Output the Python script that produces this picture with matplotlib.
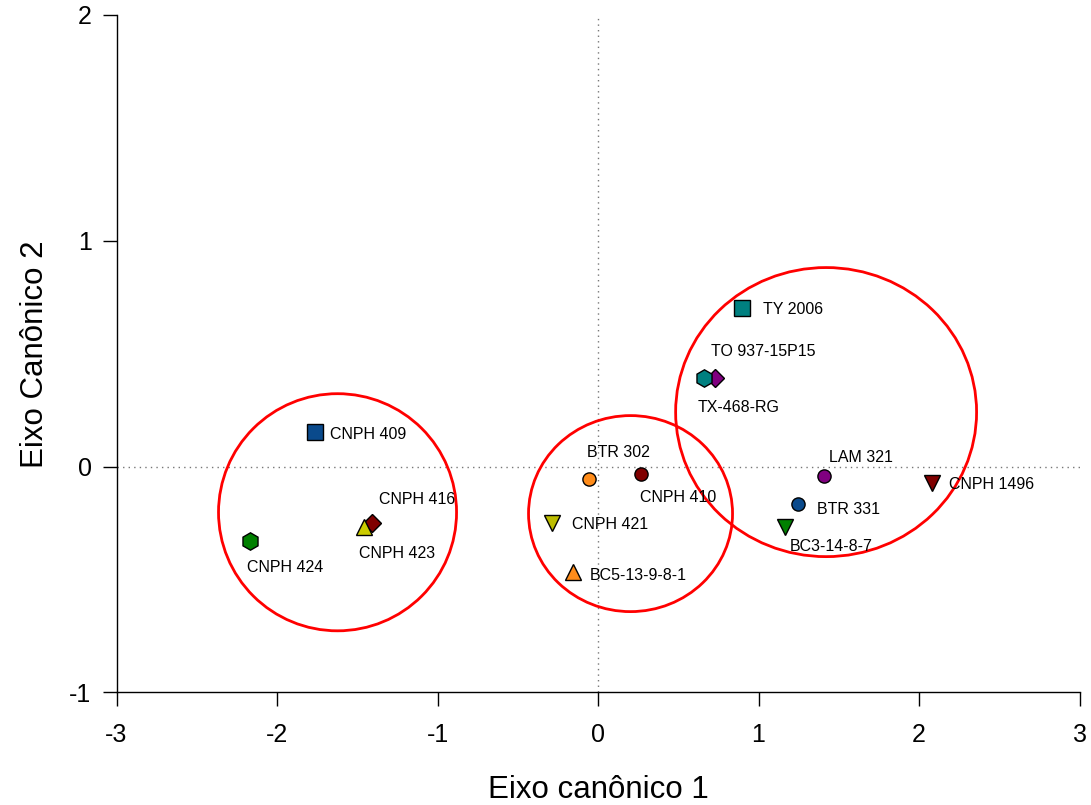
import matplotlib
matplotlib.use("Agg")
import matplotlib.pyplot as plt
from matplotlib.patches import Ellipse

plt.rcParams['font.family'] = ['Liberation Sans', 'DejaVu Sans']

names = ["CNPH 409", "CNPH 416", "CNPH 423", "CNPH 424",
         "BTR 302", "CNPH 410", "CNPH 421", "BC5-13-9-8-1",
         "TY 2006", "TO 937-15P15", "TX-468-RG",
         "LAM 321", "BTR 331", "BC3-14-8-7", "CNPH 1496"]
x_vals = [-1.766, -1.41, -1.46, -2.17,
          -0.059, 0.265, -0.284, -0.153,
          0.894, 0.726, 0.663,
          1.405, 1.243, 1.162, 2.078]
y_vals = [0.155, -0.248, -0.266, -0.328,
          -0.053, -0.031, -0.248, -0.465,
          0.704, 0.394, 0.394,
          -0.040, -0.164, -0.266, -0.071]
markers = ["s", "D", "^", "h",
           "o", "o", "v", "^",
           "s", "D", "h",
           "o", "o", "v", "v"]
colors = ["#0a4a8c", "#800000", "#cccc00", "#008000",
          "#ff8c1a", "#800000", "#bdbd00", "#ff8c1a",
          "#008080", "#800080", "#008080",
          "#800080", "#0a4a8c", "#008000", "#800000"]
sizes = [11, 9.5, 12, 12.5,
         9.5, 9.5, 12, 12,
         11, 9.5, 12.5,
         9.5, 9.5, 12, 12]
# label offsets in pixels (dx, dy)
label_dx = [15, 7, -5, -3, -2, -1, 20, 16, 21, -4, -7, 5, 19, 5, 17]
label_dy = [-3, 23, -27, -27, 26, -24, -2, -4, -2, 26, -30, 18, -6, -20, -2]

# groups (ellipses): centre x, centre y, width, height
grp_x = [-1.623, 0.2025, 1.421]
grp_y = [-0.202, -0.208, 0.2415]
grp_w = [1.483, 1.271, 1.875]
grp_h = [1.050, 0.868, 1.280]

xticks = [-3, -2, -1, 0, 1, 2, 3]
yticks = [-1, 0, 1, 2]

fig = plt.figure(figsize=(10.91, 8.05), dpi=100)
ax = fig.add_axes([0.1068, 0.1398, 0.8827, 0.8416])

ax.axhline(0, color="#777777", lw=1, ls=(0, (1, 3)), zorder=1)
ax.axvline(0, color="#777777", lw=1, ls=(0, (1, 3)), zorder=1)

for i in range(len(names)):
    ax.plot(x_vals[i], y_vals[i], marker=markers[i], ms=sizes[i],
            mfc=colors[i], mec="black", mew=1, ls="none", zorder=3)
    ax.annotate(names[i], (x_vals[i], y_vals[i]),
                xytext=(label_dx[i], label_dy[i]), textcoords="offset pixels",
                ha="left", va="center", fontsize=11.5, zorder=4)

for cx, cy, w, h in zip(grp_x, grp_y, grp_w, grp_h):
    ax.add_patch(Ellipse((cx, cy), w, h, fill=False, edgecolor="#ff0000",
                         lw=2, zorder=2))

ax.set_xlim(-3, 3)
ax.set_ylim(-1, 2)
ax.set_xticks(xticks)
ax.set_yticks(yticks)
ax.set_xticklabels([str(t) for t in xticks])
ax.set_yticklabels([str(t) for t in yticks])
ax.tick_params(direction="out", length=10, width=1, labelsize=18)
ax.tick_params(axis="x", pad=12)
ax.tick_params(axis="y", pad=8)
for s in ["top", "right"]:
    ax.spines[s].set_visible(False)
for s in ["left", "bottom"]:
    ax.spines[s].set_linewidth(1)

ax.set_xlabel("Eixo canônico 1", fontsize=22.5, labelpad=20)
ax.set_ylabel("Eixo Canônico 2", fontsize=22.5, labelpad=14)

fig.savefig("out.png", dpi=100)
